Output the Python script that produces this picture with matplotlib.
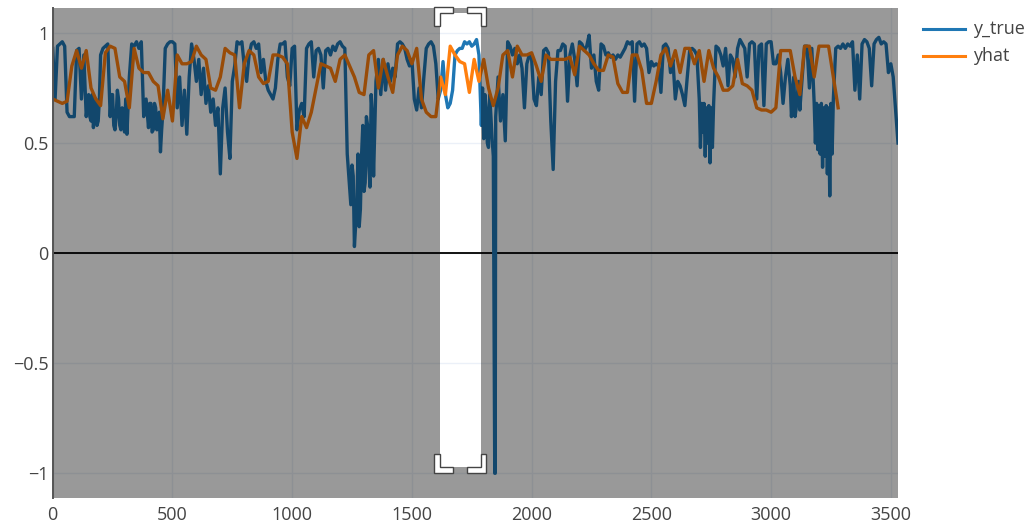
import numpy as np
import matplotlib
matplotlib.use("Agg")
import matplotlib.pyplot as plt
from matplotlib.path import Path
from matplotlib.patches import PathPatch, Polygon
from matplotlib.lines import Line2D
from matplotlib.transforms import IdentityTransform

# ---------------- data ----------------
true_step = 10
y_true = [
    0.93, 0.70, 0.94, 0.95, 0.96, 0.94, 0.64, 0.62, 0.62, 0.62,
    0.92, 0.93, 0.70, 0.90, 0.62, 0.72, 0.60, 0.57, 0.70, 0.60,
    0.90, 0.93, 0.94, 0.95, 0.62, 0.72, 0.56, 0.74, 0.58, 0.66,
    0.55, 0.54, 0.80, 0.95, 0.94, 0.96, 0.93, 0.96, 0.62, 0.70,
    0.57, 0.68, 0.56, 0.66, 0.58, 0.46, 0.64, 0.93, 0.95, 0.96,
    0.96, 0.95, 0.66, 0.80, 0.58, 0.74, 0.54, 0.80, 0.95, 0.88,
    0.78, 0.88, 0.72, 0.84, 0.68, 0.76, 0.64, 0.70, 0.58, 0.66,
    0.36, 0.66, 0.75, 0.55, 0.43, 0.78, 0.85, 0.96, 0.95, 0.96,
    0.85, 0.78, 0.90, 0.95, 0.96, 0.93, 0.95, 0.82, 0.88, 0.78,
    0.74, 0.72, 0.70, 0.75, 0.88, 0.95, 0.95, 0.96, 0.80, 0.76,
    0.93, 0.94, 0.56, 0.65, 0.68, 0.62, 0.93, 0.95, 0.96, 0.80,
    0.92, 0.93, 0.90, 0.75, 0.92, 0.93, 0.90, 0.94, 0.92, 0.95,
    0.96, 0.94, 0.93, 0.45, 0.30, 0.40, 0.03, 0.22, 0.12, 0.45,
    0.28, 0.62, 0.40, 0.72, 0.35, 0.78, 0.88, 0.72, 0.88, 0.74,
    0.86, 0.78, 0.84, 0.80, 0.95, 0.96, 0.95, 0.93, 0.88, 0.85,
    0.88, 0.70, 0.65, 0.75, 0.66, 0.80, 0.93, 0.95, 0.96, 0.94,
    0.86, 0.70, 0.74, 0.87, 0.72, 0.66, 0.68, 0.74, 0.90, 0.92,
    0.93, 0.93, 0.96, 0.95, 0.96, 0.94, 0.95, 0.97, 0.90, 0.58,
    0.52, 0.66, 0.48, 0.62, 0.44, 0.62, 0.80, 0.60, 0.72, 0.51,
    0.96, 0.94, 0.90, 0.93, 0.86, 0.90, 0.84, 0.66, 0.86, 0.90,
    0.88, 0.70, 0.67, 0.80, 0.72, 0.92, 0.93, 0.91, 0.60, 0.38,
    0.78, 0.92, 0.92, 0.95, 0.94, 0.69, 0.90, 0.95, 0.88, 0.76,
    0.96, 0.95, 0.92, 0.94, 0.99, 0.84, 0.90, 0.78, 0.74, 0.95,
    0.94, 0.90, 0.91, 0.89, 0.90, 0.88, 0.90, 0.89, 0.91, 0.93,
    0.96, 0.95, 0.96, 0.69, 0.95, 0.96, 0.94, 0.95, 0.93, 0.82,
    0.87, 0.85, 0.86, 0.85, 0.73, 0.94, 0.95, 0.93, 0.82, 0.88,
    0.70, 0.78, 0.76, 0.72, 0.67, 0.80, 0.92, 0.93, 0.92, 0.90,
    0.70, 0.68, 0.68, 0.66, 0.67, 0.66, 0.68, 0.94, 0.93, 0.90,
    0.85, 0.93, 0.76, 0.90, 0.88, 0.80, 0.93, 0.97, 0.95, 0.93,
    0.80, 0.95, 0.96, 0.95, 0.70, 0.94, 0.95, 0.67, 0.95, 0.96,
    0.96, 0.86, 0.86, 0.90, 0.82, 0.68, 0.80, 0.88, 0.76, 0.70,
    0.62, 0.72, 0.65, 0.80, 0.94, 0.94, 0.75, 0.93, 0.68, 0.68,
    0.67, 0.68, 0.66, 0.67, 0.66, 0.68, 0.70, 0.93, 0.94, 0.93,
    0.95, 0.93, 0.95, 0.94, 0.96, 0.74, 0.90, 0.70, 0.95, 0.97,
    0.96, 0.93, 0.76, 0.95, 0.97, 0.98, 0.95, 0.96, 0.95, 0.82,
    0.86, 0.80, 0.65, 0.50,
]
# extra in-between readings where y_true is very jagged
extra_x = [155, 165, 175, 185, 195, 245, 255, 265, 275, 285, 295, 305,
           405, 415, 425, 435, 445, 455,
           1245, 1255, 1275, 1285, 1295, 1305, 1315, 1325, 1335,
           1795, 1805, 1815, 1825, 1835,
           2705, 2715, 2725, 2735, 2745, 2755,
           3085, 3095, 3105, 3115,
           3185, 3195, 3205, 3215, 3225, 3235, 3245, 3255]
extra_y = [0.62, 0.72, 0.64, 0.58, 0.70, 0.72, 0.58, 0.62, 0.70, 0.56, 0.64, 0.70,
           0.68, 0.55, 0.68, 0.56, 0.64, 0.56,
           0.22, 0.35, 0.45, 0.20, 0.58, 0.32, 0.58, 0.30, 0.62,
           0.75, 0.72, 0.50, 0.72, 0.52,
           0.48, 0.55, 0.44, 0.50, 0.41, 0.48,
           0.62, 0.80, 0.66, 0.78,
           0.50, 0.47, 0.45, 0.39, 0.44, 0.36, 0.26, 0.45]
# the single deep drop of y_true
spike_x = [1846, 1848]
spike_y = [-1.0, -1.0]

hat_step = 20
yhat = [
    0.70, 0.69, 0.68, 0.69, 0.85, 0.92, 0.84, 0.92, 0.75, 0.70,
    0.67, 0.91, 0.94, 0.93, 0.80, 0.78, 0.66, 0.93, 0.84, 0.82,
    0.82, 0.78, 0.76, 0.61, 0.74, 0.60, 0.90, 0.86, 0.86, 0.87,
    0.94, 0.90, 0.88, 0.75, 0.74, 0.80, 0.93, 0.91, 0.90, 0.66,
    0.86, 0.92, 0.90, 0.80, 0.77, 0.78, 0.90, 0.90, 0.89, 0.86,
    0.55, 0.43, 0.62, 0.57, 0.64, 0.75, 0.86, 0.85, 0.84, 0.78,
    0.88, 0.90, 0.85, 0.80, 0.73, 0.72, 0.90, 0.92, 0.75, 0.88,
    0.80, 0.73, 0.90, 0.94, 0.92, 0.86, 0.93, 0.70, 0.64, 0.62,
    0.62, 0.80, 0.72, 0.94, 0.90, 0.87, 0.86, 0.73, 0.88, 0.78,
    0.88, 0.75, 0.67, 0.75, 0.90, 0.92, 0.80, 0.94, 0.90, 0.90,
    0.91, 0.85, 0.78, 0.90, 0.88, 0.88, 0.88, 0.88, 0.89, 0.81,
    0.94, 0.92, 0.90, 0.86, 0.83, 0.83, 0.90, 0.89, 0.77, 0.73,
    0.73, 0.90, 0.90, 0.83, 0.68, 0.68, 0.78, 0.90, 0.93, 0.85,
    0.92, 0.82, 0.93, 0.93, 0.86, 0.92, 0.78, 0.92, 0.84, 0.80,
    0.74, 0.74, 0.76, 0.88, 0.77, 0.76, 0.74, 0.66, 0.65, 0.65,
    0.64, 0.66, 0.92, 0.92, 0.92, 0.80, 0.72, 0.94, 0.94, 0.80,
    0.94, 0.94, 0.94, 0.80, 0.66,
]

series_names = ["y_true", "yhat"]
x_ticks = [0, 500, 1000, 1500, 2000, 2500, 3000, 3500]
y_ticks = [-1, -0.5, 0, 0.5, 1]
y_tick_labels = ["\u22121", "\u22120.5", "0", "0.5", "1"]

# zoom box being dragged (data coordinates)
sel_x = [1616, 1787]
sel_y = [-0.971, 1.092]

# ---------------- styling ----------------
C_TRUE = "#1f77b4"
C_HAT = "#ff7f0e"
FONT = "Open Sans"
TXT = "#444444"
W, H = 1034, 523

plt.rcParams["font.family"] = [FONT, "DejaVu Sans"]

fig = plt.figure(figsize=(W / 100, H / 100), dpi=100)
fig.patch.set_facecolor("white")
L, R, T, B = 52.7, 898.0, 8.3, 497.5
ax = fig.add_axes([L / W, (H - B) / H, (R - L) / W, (B - T) / H])
ax.set_facecolor("white")

xt = np.concatenate([np.arange(len(y_true)) * true_step, extra_x, spike_x])
yt = np.concatenate([np.array(y_true, dtype=float), extra_y, spike_y])
order = np.argsort(xt, kind="stable")
xt, yt = xt[order], yt[order]

xh = np.arange(len(yhat)) * hat_step
yh = np.array(yhat, dtype=float)

ax.plot(xt, yt, color=C_TRUE, lw=2.4, solid_joinstyle="round", zorder=3)
ax.plot(xh, yh, color=C_HAT, lw=2.4, solid_joinstyle="round", zorder=4)

ax.set_xlim(0, 3530)
ax.set_ylim(-1.11, 1.112)
ax.set_xticks(x_ticks)
ax.set_xticklabels([str(v) for v in x_ticks])
ax.set_yticks(y_ticks)
ax.set_yticklabels(y_tick_labels)
ax.grid(True, color="#EBF0F8", lw=1.0, zorder=0)
ax.set_axisbelow(True)
ax.axhline(0, color="black", lw=1.3, zorder=2)

ax.tick_params(axis="both", length=0, labelsize=13, labelcolor=TXT)
ax.tick_params(axis="x", pad=6)
ax.tick_params(axis="y", pad=3)
for s in ["top", "right", "bottom"]:
    ax.spines[s].set_visible(False)
ax.spines["left"].set_color("#555555")
ax.spines["left"].set_linewidth(1.4)
ax.spines["left"].set_zorder(12)

# darkened area outside the zoom box
xl0, xl1 = -100, 3700
yl0, yl1 = -2, 2
verts = [(xl0, yl0), (xl1, yl0), (xl1, yl1), (xl0, yl1), (xl0, yl0),
         (sel_x[0], sel_y[0]), (sel_x[0], sel_y[1]), (sel_x[1], sel_y[1]),
         (sel_x[1], sel_y[0]), (sel_x[0], sel_y[0])]
codes = [Path.MOVETO, Path.LINETO, Path.LINETO, Path.LINETO, Path.CLOSEPOLY,
         Path.MOVETO, Path.LINETO, Path.LINETO, Path.LINETO, Path.CLOSEPOLY]
shade = PathPatch(Path(verts, codes), facecolor=(0, 0, 0, 0.4),
                  edgecolor="none", zorder=10)
ax.add_patch(shade)

# corner brackets of the zoom box (drawn in display pixels, y up)
fig.canvas.draw()
def corner(xd, yd, sx, sy):
    px, py = ax.transData.transform((xd, yd))
    o, a = 5.7, 13.3
    pts = [(-o, -o), (a, -o), (a, 0), (0, 0), (0, a), (-o, a)]
    pts = [(px + sx * u, py + sy * v) for u, v in pts]
    poly = Polygon(pts, closed=True, facecolor="white", edgecolor="#444444",
                   lw=1.0, transform=IdentityTransform(), zorder=20,
                   clip_on=False)
    fig.add_artist(poly)

corner(sel_x[0], sel_y[1], 1, -1)    # top-left
corner(sel_x[1], sel_y[1], -1, -1)   # top-right
corner(sel_x[0], sel_y[0], 1, 1)     # bottom-left
corner(sel_x[1], sel_y[0], -1, 1)    # bottom-right

# legend
for i, (name, col) in enumerate(zip(series_names, [C_TRUE, C_HAT])):
    yy = 1 - (29.3 + i * 26.7) / H
    fig.add_artist(Line2D([922.7 / W, 965 / W], [yy, yy], color=col, lw=2.2,
                          transform=fig.transFigure))
    fig.text(972.7 / W, yy, name, color=TXT, fontsize=13, va="center",
             ha="left", family=[FONT, "DejaVu Sans"])

fig.savefig("out.png", dpi=100, facecolor="white")
